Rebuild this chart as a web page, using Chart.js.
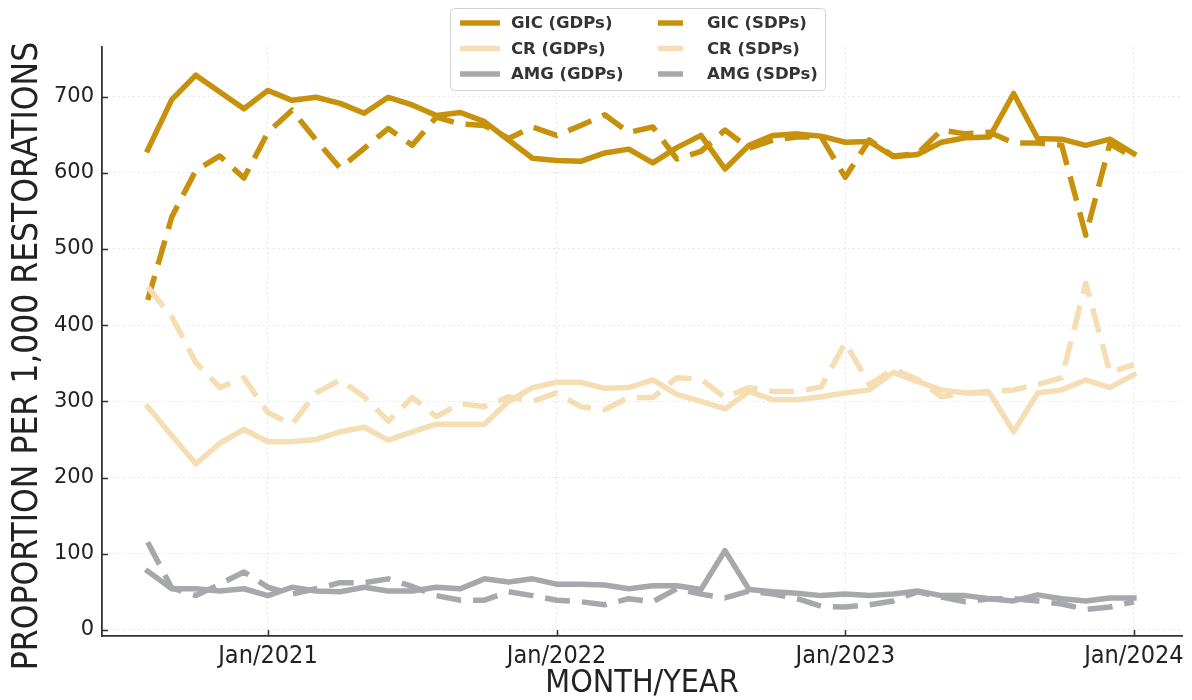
<!DOCTYPE html>
<html>
<head>
<meta charset="utf-8">
<script src="https://cdn.jsdelivr.net/npm/chart.js@4/dist/chart.umd.min.js"></script>
<style>
html,body{margin:0;padding:0;background:#fff;}
#wrap{width:1192px;height:700px;position:relative;}
</style>
</head>
<body>
<div id="wrap"><canvas id="c" width="1192" height="700"></canvas></div>
<script>
// ---- data ----
const months = ["2020-08","2020-09","2020-10","2020-11","2020-12",
  "2021-01","2021-02","2021-03","2021-04","2021-05","2021-06","2021-07","2021-08","2021-09","2021-10","2021-11","2021-12",
  "2022-01","2022-02","2022-03","2022-04","2022-05","2022-06","2022-07","2022-08","2022-09","2022-10","2022-11","2022-12",
  "2023-01","2023-02","2023-03","2023-04","2023-05","2023-06","2023-07","2023-08","2023-09","2023-10","2023-11","2023-12",
  "2024-01"];

const gicGDPs = [630,696,728,706,684,708,695,699,691,678,699,689,675,679,667,643,619,
  616,615,626,631,613,633,649,605,636,649,651,648,
  640,641,621,624,640,646,647,704,645,644,636,644,625];
const gicSDPs = [433,542,603,622,593,653,682,643,606,632,658,636,673,664,662,645,660,
  649,662,676,653,660,618,628,656,632,643,647,647,
  594,643,622,625,656,651,653,639,639,636,518,638,620];
const crGDPs = [293,255,218,245,263,247,247,250,260,266,249,260,270,270,270,300,318,
  325,325,317,318,328,309,300,290,313,302,302,306,
  311,315,338,326,315,311,311,260,311,315,328,318,335];
const crSDPs = [450,411,351,318,331,285,270,311,328,306,274,305,280,297,293,306,300,
  311,293,289,305,305,331,329,305,318,313,313,319,
  377,322,342,329,306,311,313,315,322,331,455,338,348];
const amgGDPs = [77,54,54,51,54,45,56,51,50,56,51,51,56,54,67,63,67,
  60,60,59,54,58,58,53,104,53,50,48,45,
  47,45,47,51,45,45,41,38,46,41,38,42,42];
const amgSDPs = [115,55,45,60,76,56,47,54,62,62,67,57,45,39,39,50,45,
  39,37,33,41,37,54,47,42,51,47,41,31,
  30,33,38,50,43,37,41,41,38,34,27,30,37];

const tickMonths = ["2021-01","2022-01","2023-01","2024-01"];
const tickLabels = ["Jan/2021","Jan/2022","Jan/2023","Jan/2024"];
const yTicks = [0,100,200,300,400,500,600,700];
const yTitle = 'PROPORTION PER 1,000 RESTORATIONS';
const xTitle = 'MONTH/YEAR';

// ---- styles ----
const GOLD = 'rgb(199,145,12)';
const WHEAT = 'rgb(245,222,179)';
const GRAY = 'rgb(167,168,172)';
const DASH = [25, 12];
const COND = "'DejaVu Sans Condensed', 'DejaVu Sans', sans-serif";

const pts = arr => arr.map((v, i) => ({x: i, y: v}));
function ds(label, arr, color, dashed, order) {
  return {
    label, data: pts(arr), borderColor: color, backgroundColor: color,
    borderWidth: 5.5, borderDash: dashed ? DASH : [], pointRadius: 0,
    tension: 0, borderJoinStyle: 'round', borderCapStyle: dashed ? 'butt' : 'square',
    fill: false, order
  };
}

Chart.defaults.font.family = "'DejaVu Sans', sans-serif";

const innerTicksAndLegend = {
  id: 'innerTicksAndLegend',
  afterDraw(chart) {
    const ctx = chart.ctx;
    const ca = chart.chartArea;
    const xs = chart.scales.x, ys = chart.scales.y;
    ctx.save();
    ctx.strokeStyle = '#333';
    ctx.lineWidth = 1.5;
    ctx.setLineDash([]);
    xs.ticks.forEach(t => {
      const px = Math.round(xs.getPixelForValue(t.value)) + 0.5;
      ctx.beginPath(); ctx.moveTo(px, ca.bottom); ctx.lineTo(px, ca.bottom - 6); ctx.stroke();
    });
    ys.ticks.forEach(t => {
      const py = Math.round(ys.getPixelForValue(t.value)) + 0.5;
      ctx.beginPath(); ctx.moveTo(ca.left, py); ctx.lineTo(ca.left + 6, py); ctx.stroke();
    });
    // y axis title
    ctx.save();
    ctx.translate(28, 356);
    ctx.rotate(-Math.PI / 2);
    ctx.font = "35px " + COND;
    ctx.fillStyle = '#222';
    ctx.textAlign = 'center';
    ctx.textBaseline = 'middle';
    ctx.fillText(yTitle, 0, 0);
    ctx.restore();
    // legend (two columns, column-first like the reference)
    const bx = 450.5, by = 8.5, bw = 375, bh = 82;
    ctx.fillStyle = 'rgba(255,255,255,0.92)';
    ctx.strokeStyle = '#d2d2d2';
    ctx.lineWidth = 1;
    ctx.beginPath();
    ctx.roundRect(bx, by, bw, bh, 4);
    ctx.fill(); ctx.stroke();
    ctx.font = "bold 16.5px 'DejaVu Sans'";
    ctx.textBaseline = 'middle';
    ctx.textAlign = 'left';
    chart.data.datasets.forEach((d, i) => {
      const col = Math.floor(i / 3), row = i % 3;
      const y = 23 + row * 25.5;
      const hx = col === 0 ? 460 : 658;
      const hlen = col === 0 ? 40 : 25;
      ctx.strokeStyle = d.borderColor;
      ctx.lineWidth = 5.5;
      ctx.lineCap = 'butt';
      ctx.beginPath(); ctx.moveTo(hx, y); ctx.lineTo(hx + hlen, y); ctx.stroke();
      ctx.fillStyle = '#333';
      ctx.fillText(d.label, col === 0 ? 511 : 707, y + 1);
    });
    ctx.restore();
  }
};

new Chart(document.getElementById('c'), {
  type: 'line',
  data: {
    datasets: [
      ds('GIC (GDPs)', gicGDPs, GOLD, false, 6),
      ds('CR (GDPs)', crGDPs, WHEAT, false, 5),
      ds('AMG (GDPs)', amgGDPs, GRAY, false, 4),
      ds('GIC (SDPs)', gicSDPs, GOLD, true, 3),
      ds('CR (SDPs)', crSDPs, WHEAT, true, 2),
      ds('AMG (SDPs)', amgSDPs, GRAY, true, 1)
    ]
  },
  options: {
    responsive: false,
    devicePixelRatio: 1,
    animation: false,
    layout: {padding: {top: 47, right: 10, left: 0, bottom: 0}},
    plugins: {legend: {display: false}, tooltip: {enabled: false}},
    scales: {
      x: {
        type: 'linear',
        min: -1.9, max: 43.0,
        afterBuildTicks: s => { s.ticks = tickMonths.map(m => ({value: months.indexOf(m)})); },
        afterFit: s => { s.height = 64; },
        ticks: {
          autoSkip: false, maxRotation: 0, padding: 5,
          color: '#222', font: {size: 25, family: COND},
          callback: v => tickLabels[tickMonths.indexOf(months[v])]
        },
        grid: {color: '#e6e6e6', lineWidth: 1, drawTicks: false},
        border: {display: true, color: '#333', width: 1.8, dash: [2, 3]},
        title: {display: true, text: xTitle, color: '#222', font: {size: 32, family: COND}, padding: {top: 0, bottom: -3}}
      },
      y: {
        min: -8, max: 765,
        afterBuildTicks: s => { s.ticks = yTicks.map(v => ({value: v})); },
        afterFit: s => { s.width = 102; },
        ticks: {color: '#222', font: {size: 21, family: "'DejaVu Sans', sans-serif"}, padding: 8},
        grid: {color: '#e6e6e6', lineWidth: 1, drawTicks: false},
        border: {display: true, color: '#333', width: 1.8, dash: [2, 3]},
        title: {display: false}
      }
    }
  },
  plugins: [innerTicksAndLegend]
});
</script>
</body>
</html>
